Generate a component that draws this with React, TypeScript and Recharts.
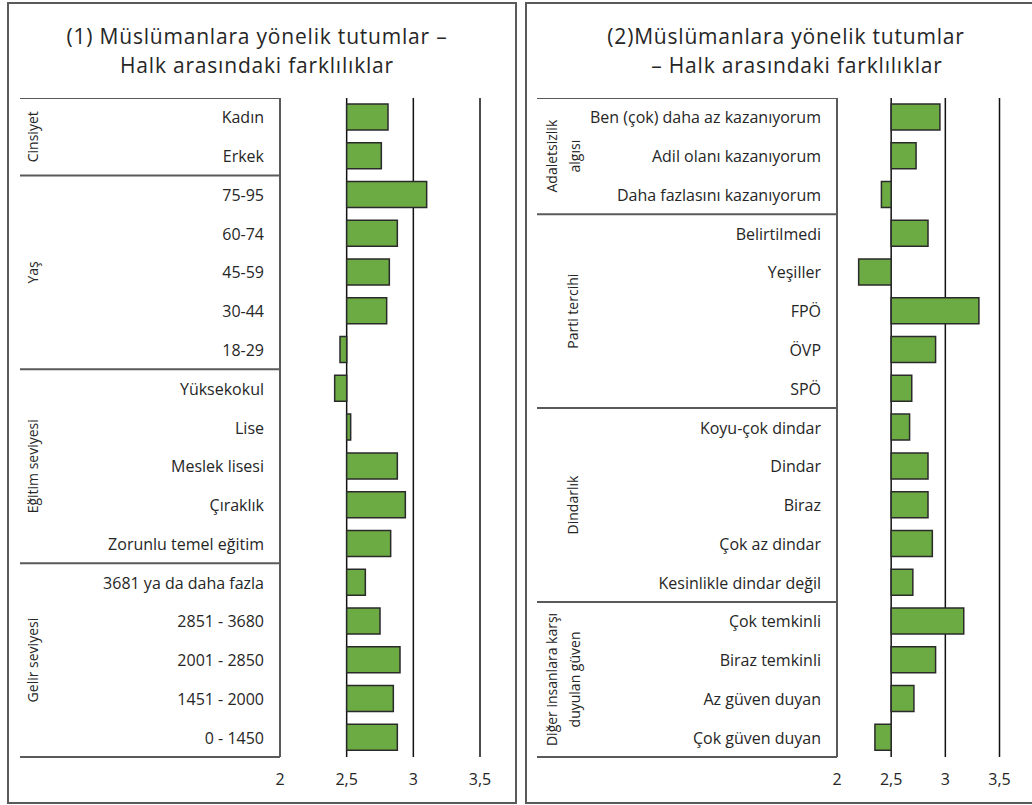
import React from "react"
import { BarChart, Bar, XAxis, YAxis, CartesianGrid } from "recharts"

// left panel: (1) attitudes by demographics
const leftCategories = [
  "Kadın", "Erkek",
  "75-95", "60-74", "45-59", "30-44", "18-29",
  "Yüksekokul", "Lise", "Meslek lisesi", "Çıraklık", "Zorunlu temel eğitim",
  "3681 ya da daha fazla", "2851 - 3680", "2001 - 2850", "1451 - 2000", "0 - 1450",
]
const leftValues = [
  2.81, 2.76,
  3.1, 2.88, 2.82, 2.8, 2.45,
  2.41, 2.53, 2.88, 2.94, 2.83,
  2.64, 2.75, 2.9, 2.85, 2.88,
]
const leftGroups = [
  { lines: ["Cinsiyet"], size: 2 },
  { lines: ["Yaş"], size: 5 },
  { lines: ["Eğitim seviyesi"], size: 5 },
  { lines: ["Gelir seviyesi"], size: 5 },
]

// right panel: (2) attitudes by perception / party / religiosity / trust
const rightCategories = [
  "Ben (çok) daha az kazanıyorum", "Adil olanı kazanıyorum", "Daha fazlasını kazanıyorum",
  "Belirtilmedi", "Yeşiller", "FPÖ", "ÖVP", "SPÖ",
  "Koyu-çok dindar", "Dindar", "Biraz", "Çok az dindar", "Kesinlikle dindar değil",
  "Çok temkinli", "Biraz temkinli", "Az güven duyan", "Çok güven duyan",
]
const rightValues = [
  2.95, 2.73, 2.41,
  2.84, 2.2, 3.31, 2.91, 2.69,
  2.67, 2.84, 2.84, 2.88, 2.7,
  3.17, 2.91, 2.71, 2.35,
]
const rightGroups = [
  { lines: ["Adaletsizlik", "algısı"], size: 3 },
  { lines: ["Parti tercihi"], size: 5 },
  { lines: ["Dindarlık"], size: 5 },
  { lines: ["Diğer insanlara karşı", "duyulan güven"], size: 4 },
]

const xTicks = [2, 2.5, 3, 3.5]
const baseline = 2.5

const FONT = "'Open Sans', 'Noto Sans', sans-serif"
const TEXT = "#262626"
const TABLE_LINE = "#5a5a5a"
const PLOT_H = 659

type PanelProps = {
  categories: string[]
  values: number[]
  groups: { lines: string[]; size: number }[]
  left: number
  axisWidth: number
  plotWidth: number
  singleX: number
  lineXs: number[]
}

function Panel({ categories, values, groups, left, axisWidth, plotWidth, singleX, lineXs }: PanelProps) {
  const data = categories.map((label, i) => ({
    label,
    range: [Math.min(baseline, values[i]), Math.max(baseline, values[i])],
  }))
  const step = PLOT_H / categories.length
  const starts: Record<number, { lines: string[]; size: number }> = {}
  let acc = 0
  groups.forEach((g) => {
    starts[acc] = g
    acc += g.size
  })
  const tickGap = 16

  const RowTick = (props: any) => {
    const { x, y, payload } = props
    const idx = categories.indexOf(payload.value)
    const axisX = x + tickGap
    const g = starts[idx]
    return (
      <g>
        <text x={x} y={y} textAnchor="end" dominantBaseline="central" fill={TEXT} fontSize={16} fontFamily={FONT}>
          {payload.value}
        </text>
        {g && <line x1={0} x2={axisX} y1={y - step / 2} y2={y - step / 2} stroke={TABLE_LINE} strokeWidth={2} />}
        {idx === categories.length - 1 && (
          <line x1={0} x2={axisX} y1={y + step / 2} y2={y + step / 2} stroke={TABLE_LINE} strokeWidth={2} />
        )}
        {g &&
          g.lines.map((ln, k) => {
            const gx = g.lines.length === 1 ? singleX : lineXs[k]
            const gy = y + ((g.size - 1) / 2) * step
            return (
              <text
                key={k}
                x={gx}
                y={gy}
                transform={`rotate(-90 ${gx} ${gy})`}
                textAnchor="middle"
                dominantBaseline="central"
                fill={TEXT}
                fontSize={14}
                fontFamily={FONT}
              >
                {ln}
              </text>
            )
          })}
      </g>
    )
  }

  const width = axisWidth + plotWidth + 20
  return (
    <div style={{ position: "absolute", left, top: 98 }}>
      <BarChart
        layout="vertical"
        width={width}
        height={710}
        data={data}
        margin={{ top: 0, right: 20, bottom: 11, left: 0 }}
        barSize={26}
      >
        <CartesianGrid horizontal={false} stroke="#111" strokeWidth={1.5} />
        <XAxis
          type="number"
          domain={[2, 3.5]}
          ticks={xTicks}
          axisLine={false}
          tickLine={false}
          tickSize={0}
          tickMargin={17}
          height={40}
          interval={0}
          tickFormatter={(v) => String(v).replace(".", ",")}
          tick={{ fill: TEXT, fontSize: 16, fontFamily: FONT }}
        />
        <YAxis
          type="category"
          dataKey="label"
          width={axisWidth}
          interval={0}
          tickLine={false}
          tickSize={0}
          tickMargin={tickGap}
          axisLine={{ stroke: TABLE_LINE, strokeWidth: 2 }}
          tick={<RowTick />}
        />
        <Bar dataKey="range" fill="#6cab43" stroke="#2a2a2a" strokeWidth={1.5} isAnimationActive={false} />
      </BarChart>
    </div>
  )
}

const titleStyle: React.CSSProperties = {
  position: "absolute",
  width: 600,
  textAlign: "center",
  fontFamily: FONT,
  fontSize: 21,
  letterSpacing: "0.8px",
  lineHeight: "29px",
  color: TEXT,
  whiteSpace: "nowrap",
}

export default function App() {
  return (
    <div style={{ position: "absolute", left: 0, top: 0, width: 1032, height: 805, background: "#fff", overflow: "hidden" }}>
      <div style={{ position: "absolute", left: 7, top: 2, width: 506, height: 798, border: `2px solid ${TABLE_LINE}` }} />
      <div style={{ position: "absolute", left: 525, top: 2, width: 520, height: 798, border: `2px solid ${TABLE_LINE}` }} />

      <div style={{ ...titleStyle, left: 257 - 300, top: 22 }}>(1) Müslümanlara yönelik tutumlar –</div>
      <div style={{ ...titleStyle, left: 257 - 300, top: 51 }}>Halk arasındaki farklılıklar</div>
      <div style={{ ...titleStyle, left: 786 - 300, top: 22 }}>(2)Müslümanlara yönelik tutumlar</div>
      <div style={{ ...titleStyle, left: 797 - 300, top: 51 }}>– Halk arasındaki farklılıklar</div>

      <Panel
        categories={leftCategories}
        values={leftValues}
        groups={leftGroups}
        left={20}
        axisWidth={260}
        plotWidth={200}
        singleX={13}
        lineXs={[13, 36]}
      />
      <Panel
        categories={rightCategories}
        values={rightValues}
        groups={rightGroups}
        left={537}
        axisWidth={300}
        plotWidth={162.5}
        singleX={36}
        lineXs={[15, 38]}
      />
    </div>
  )
}
